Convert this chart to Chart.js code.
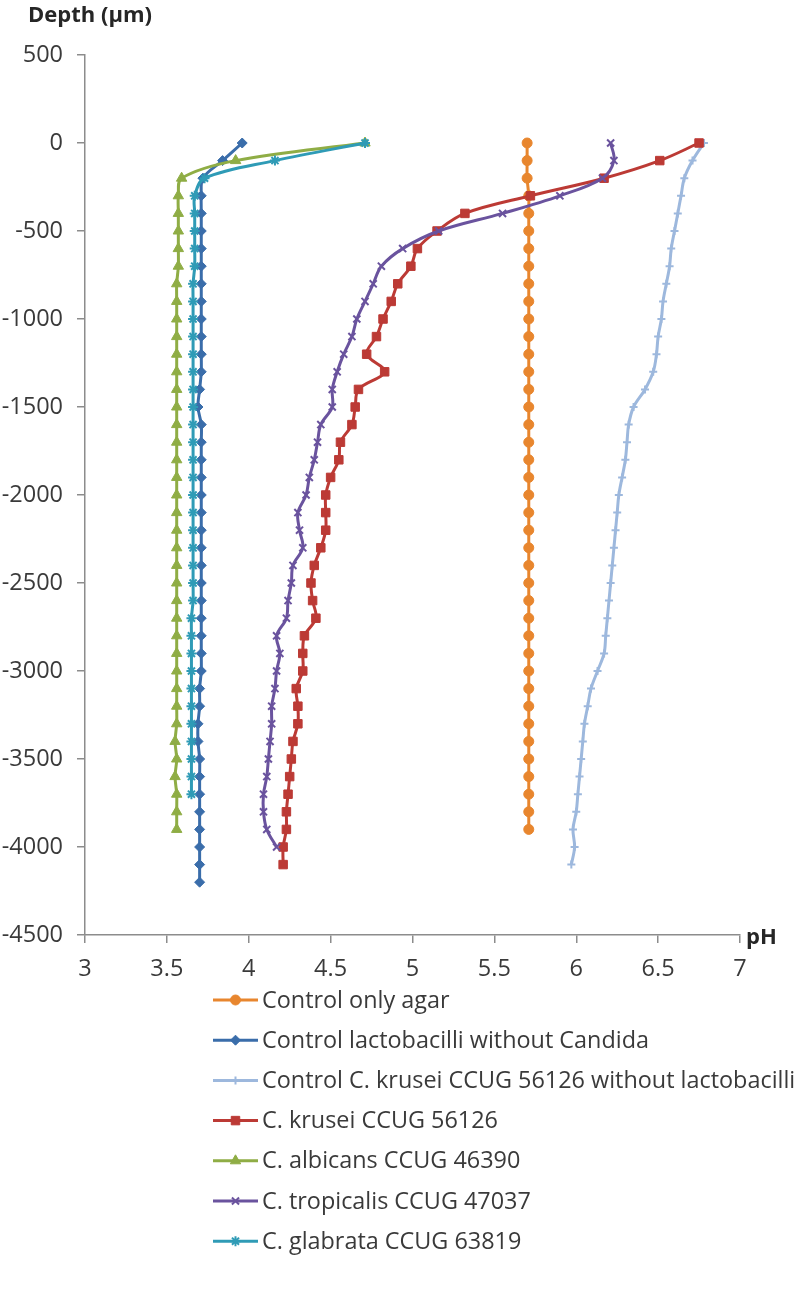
<!DOCTYPE html>
<html lang="en">
<head>
  <meta charset="UTF-8" />
  <title>pH depth profiles</title>
  <script src="https://cdn.jsdelivr.net/npm/chart.js"></script>
  <style>
    body { margin: 0; background: #fff; }
    canvas { display: block; }
  </style>
</head>
<body>
  <canvas id="phChart" width="800" height="1291"></canvas>
  <script>
    // depth in µm, one entry per measuring point (pH arrays below use the first N)
    const depths = [0, -100, -200, -300, -400, -500, -600, -700, -800, -900,
      -1000, -1100, -1200, -1300, -1400, -1500, -1600, -1700, -1800, -1900,
      -2000, -2100, -2200, -2300, -2400, -2500, -2600, -2700, -2800, -2900,
      -3000, -3100, -3200, -3300, -3400, -3500, -3600, -3700, -3800, -3900,
      -4000, -4100, -4200];

    const seriesNames = [
      "Control only agar",
      "Control lactobacilli without Candida",
      "Control C. krusei CCUG 56126 without lactobacilli",
      "C. krusei CCUG 56126",
      "C. albicans CCUG 46390",
      "C. tropicalis CCUG 47037",
      "C. glabrata CCUG 63819"
    ];

    const phAgar = [5.70, 5.70, 5.70, 5.71, 5.71, 5.71, 5.71, 5.71, 5.71, 5.71,
      5.71, 5.71, 5.71, 5.71, 5.71, 5.71, 5.71, 5.71, 5.71, 5.71,
      5.71, 5.71, 5.71, 5.71, 5.71, 5.71, 5.71, 5.71, 5.71, 5.71,
      5.71, 5.71, 5.71, 5.71, 5.71, 5.71, 5.71, 5.71, 5.71, 5.71];

    const phLacto = [3.96, 3.84, 3.72, 3.71, 3.71, 3.71, 3.71, 3.71, 3.71, 3.71,
      3.71, 3.71, 3.71, 3.71, 3.70, 3.69, 3.71, 3.71, 3.71, 3.71,
      3.71, 3.71, 3.71, 3.71, 3.71, 3.71, 3.71, 3.71, 3.71, 3.71,
      3.71, 3.70, 3.70, 3.69, 3.69, 3.70, 3.70, 3.70, 3.70, 3.70,
      3.70, 3.70, 3.70];

    const phKruseiCtrl = [6.78, 6.71, 6.66, 6.64, 6.62, 6.60, 6.58, 6.57, 6.55, 6.53,
      6.52, 6.50, 6.49, 6.47, 6.42, 6.35, 6.32, 6.31, 6.30, 6.28,
      6.26, 6.25, 6.24, 6.23, 6.22, 6.21, 6.20, 6.19, 6.18, 6.17,
      6.13, 6.09, 6.07, 6.05, 6.04, 6.03, 6.02, 6.01, 6.00, 5.98,
      5.99, 5.97];

    const phKrusei = [6.75, 6.51, 6.17, 5.72, 5.32, 5.15, 5.03, 4.99, 4.91, 4.87,
      4.82, 4.78, 4.72, 4.83, 4.67, 4.65, 4.63, 4.56, 4.55, 4.50,
      4.47, 4.47, 4.47, 4.44, 4.40, 4.38, 4.39, 4.41, 4.34, 4.33,
      4.33, 4.29, 4.30, 4.30, 4.27, 4.26, 4.25, 4.24, 4.23, 4.23,
      4.21, 4.21];

    const phAlbicans = [4.71, 3.92, 3.59, 3.57, 3.57, 3.57, 3.57, 3.57, 3.56, 3.56,
      3.56, 3.56, 3.56, 3.56, 3.56, 3.56, 3.56, 3.56, 3.56, 3.56,
      3.56, 3.56, 3.56, 3.56, 3.56, 3.56, 3.56, 3.56, 3.56, 3.56,
      3.56, 3.56, 3.56, 3.56, 3.55, 3.56, 3.55, 3.56, 3.56, 3.56];

    const phTropicalis = [6.21, 6.23, 6.16, 5.90, 5.55, 5.16, 4.94, 4.81, 4.76, 4.71,
      4.66, 4.63, 4.58, 4.54, 4.51, 4.51, 4.44, 4.42, 4.40, 4.37,
      4.35, 4.30, 4.31, 4.33, 4.27, 4.26, 4.24, 4.23, 4.17, 4.19,
      4.17, 4.16, 4.14, 4.14, 4.13, 4.12, 4.11, 4.09, 4.09, 4.11,
      4.17];

    const phGlabrata = [4.71, 4.16, 3.73, 3.67, 3.67, 3.67, 3.67, 3.67, 3.66, 3.66,
      3.66, 3.66, 3.66, 3.66, 3.66, 3.66, 3.66, 3.66, 3.66, 3.66,
      3.66, 3.66, 3.66, 3.66, 3.66, 3.66, 3.66, 3.65, 3.65, 3.65,
      3.65, 3.65, 3.65, 3.65, 3.65, 3.65, 3.65, 3.65];

    const phTicks = [3, 3.5, 4, 4.5, 5, 5.5, 6, 6.5, 7];
    const depthTicks = [500, 0, -500, -1000, -1500, -2000, -2500, -3000, -3500, -4000, -4500];

    const allPh = [phAgar, phLacto, phKruseiCtrl, phKrusei, phAlbicans, phTropicalis, phGlabrata];
    const colors = ["#E8862E", "#3A6DAA", "#9DB8DD", "#BC3A35", "#8FAD45", "#6A539E", "#2F9BB6"];
    const markers = ["circle", "rectRot", "cross", "rect", "triangle", "crossRot", "star"];
    const markerSize = [5, 5, 4, 6, 6, 5, 5];

    const axisGray = "#8c8c8c";
    const textGray = "#3a3a3a";
    const fontFamily = "'Open Sans', sans-serif";

    function toPoints(ph) {
      return ph.map((v, i) => ({ x: v, y: depths[i] }));
    }

    const datasets = allPh.map((ph, i) => ({
      label: seriesNames[i],
      data: toPoints(ph),
      showLine: true,
      borderColor: colors[i],
      backgroundColor: colors[i],
      borderWidth: 3,
      tension: 0.35,
      pointStyle: markers[i],
      pointRadius: markerSize[i],
      pointBorderWidth: (markers[i] === "cross" || markers[i] === "crossRot" || markers[i] === "star") ? 2 : 1,
      order: allPh.length - i
    }));

    // axis titles and the vertical legend under the plot
    const extras = {
      id: "extras",
      afterDraw(chart) {
        const ctx = chart.ctx;
        ctx.save();
        ctx.fillStyle = "#262626";
        ctx.font = "bold 22px " + fontFamily;
        ctx.textBaseline = "middle";
        ctx.textAlign = "left";
        ctx.fillText("Depth (\u00b5m)", 28, 16);
        ctx.fillText("pH", 746, 938);

        ctx.font = "23.4px " + fontFamily;
        chart.data.datasets.forEach((ds, i) => {
          const y = 1000 + i * 40.2;
          ctx.strokeStyle = ds.borderColor;
          ctx.lineWidth = 3;
          ctx.beginPath();
          ctx.moveTo(213, y);
          ctx.lineTo(258, y);
          ctx.stroke();
          ctx.fillStyle = ds.borderColor;
          ctx.lineWidth = ds.pointBorderWidth;
          if (Chart.helpers && Chart.helpers.drawPoint) {
            Chart.helpers.drawPoint(ctx, {
              pointStyle: ds.pointStyle,
              radius: ds.pointRadius,
              rotation: 0,
              borderWidth: ds.pointBorderWidth
            }, 235.5, y);
          }
          ctx.fillStyle = textGray;
          ctx.fillText(ds.label, 262, y + 1);
        });
        ctx.restore();
      }
    };

    new Chart(document.getElementById("phChart"), {
      type: "scatter",
      data: { datasets: datasets },
      options: {
        responsive: false,
        animation: false,
        layout: { padding: { top: 55, right: 60, left: 0, bottom: 0 } },
        plugins: {
          legend: { display: false },
          tooltip: { enabled: false }
        },
        scales: {
          x: {
            type: "linear",
            min: phTicks[0],
            max: phTicks[phTicks.length - 1],
            afterBuildTicks: (scale) => { scale.ticks = phTicks.map(v => ({ value: v })); },
            afterFit: (scale) => { scale.height = 356; },
            ticks: {
              color: textGray,
              font: { family: fontFamily, size: 23.5 },
              padding: 12,
              maxRotation: 0,
              callback: (v) => String(v)
            },
            grid: { drawOnChartArea: false, tickLength: 8, color: axisGray, lineWidth: 1.5 },
            border: { color: axisGray, width: 1.5 }
          },
          y: {
            type: "linear",
            min: depthTicks[depthTicks.length - 1],
            max: depthTicks[0],
            afterBuildTicks: (scale) => { scale.ticks = depthTicks.map(v => ({ value: v })); },
            afterFit: (scale) => { scale.width = 85; },
            ticks: {
              color: textGray,
              font: { family: fontFamily, size: 23.5 },
              padding: 14,
              callback: (v) => String(v)
            },
            grid: { drawOnChartArea: false, tickLength: 8, color: axisGray, lineWidth: 1.5 },
            border: { color: axisGray, width: 1.5 }
          }
        }
      },
      plugins: [extras]
    });
  </script>
</body>
</html>
